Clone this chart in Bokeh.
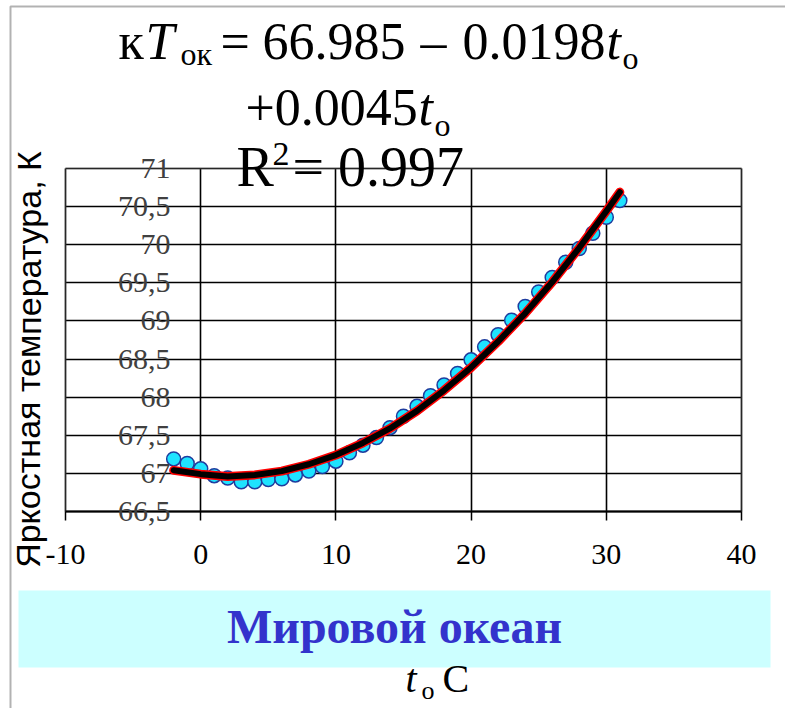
from bokeh.plotting import figure
from bokeh.models import Range1d, FixedTicker, Label, BoxAnnotation
from bokeh.embed import file_html
from bokeh.resources import INLINE

# ---- data ----
t_obs = [-2, -1, 0, 1, 2, 3, 4, 5, 6, 7, 8, 9, 10, 11, 12, 13, 14, 15, 16,
         17, 18, 19, 20, 21, 22, 23, 24, 25, 26, 27, 28, 29, 30, 31]
T_obs = [67.19, 67.13, 67.06, 66.97, 66.94, 66.89, 66.89, 66.92, 66.93, 66.98,
         67.03, 67.09, 67.16, 67.27, 67.37, 67.47, 67.60, 67.75, 67.88, 68.02,
         68.16, 68.31, 68.49, 68.66, 68.82, 69.01, 69.19, 69.38, 69.57, 69.77,
         69.95, 70.15, 70.36, 70.58]

t_fit = [-2, 0, 2, 4, 6, 8, 10, 12, 14, 16, 18, 20, 22, 24, 26, 28, 30, 31]
T_fit = [67.04, 66.99, 66.96, 66.98, 67.03, 67.12, 67.24, 67.40, 67.59, 67.82,
         68.09, 68.39, 68.73, 69.10, 69.51, 69.96, 70.44, 70.69]

x_ticks = [-10, 0, 10, 20, 30, 40]
x_tick_labels = ["-10", "0", "10", "20", "30", "40"]
y_ticks = [66.5, 67, 67.5, 68, 68.5, 69, 69.5, 70, 70.5, 71]
y_tick_labels = ["66,5", "67", "67,5", "68", "68,5", "69", "69,5", "70", "70,5", "71"]

y_title = "Яркостная температура, К"
x_title_t = "t"
x_title_sub = "о"
x_title_unit = "C"
region_name = "Мировой океан"
eq1 = ["к", "T", "ок", "=", "66.985", "–", "0.0198", "t", "о"]
eq2 = ["+0.0045", "t", "о"]
eq3 = ["R", "2", "= 0.997"]

# ---- layout (canvas pixels) ----
W, H = 785, 708
FL, FR, FT, FB = 65, 741, 168, 511          # plot-area box
x_lo, x_hi = x_ticks[0], x_ticks[-1]
y_lo, y_hi = y_ticks[0], y_ticks[-1]
kx = (FR - FL) / (x_hi - x_lo)
ky = (FB - FT) / (y_hi - y_lo)

p = figure(width=W, height=H,
           x_range=Range1d(x_lo - FL / kx, x_hi + (W - FR) / kx),
           y_range=Range1d(y_lo - (H - FB) / ky, y_hi + FT / ky),
           output_backend="svg", toolbar_location=None)
p.min_border = 0
p.background_fill_color = "white"
p.border_fill_color = "white"
p.outline_line_color = None

# grid limited to the plot area
grid_ok = True
try:
    p.xgrid.bounds = (x_lo, x_hi)
    p.xgrid.cross_bounds = (y_lo, y_hi)
    p.ygrid.bounds = (y_lo, y_hi)
    p.ygrid.cross_bounds = (x_lo, x_hi)
except Exception:
    grid_ok = False
for g, tk in ((p.xgrid, x_ticks), (p.ygrid, y_ticks)):
    g.ticker = FixedTicker(ticks=tk)
    g.grid_line_color = "black"
    g.grid_line_width = 1.6
    g.visible = grid_ok
if not grid_ok:
    p.segment(x0=x_ticks, y0=[y_lo] * len(x_ticks), x1=x_ticks, y1=[y_hi] * len(x_ticks),
              line_color="black", line_width=1.6)
    p.segment(x0=[x_lo] * len(y_ticks), y0=y_ticks, x1=[x_hi] * len(y_ticks), y1=y_ticks,
              line_color="black", line_width=1.6)

# plot-area border (grey)
p.add_layout(BoxAnnotation(left=x_lo, right=x_hi, bottom=y_lo, top=y_hi,
                           fill_alpha=0, line_color="#808080", line_width=2,
                           level="underlay"))

SERIF = "Liberation Serif"
xa = p.xaxis[0]
xa.fixed_location = y_lo
xa.bounds = (x_lo, x_hi)
xa.ticker = FixedTicker(ticks=x_ticks)
xa.major_label_overrides = {v: s for v, s in zip(x_ticks, x_tick_labels)}
xa.axis_line_color = "black"
xa.axis_line_width = 2
xa.major_tick_line_color = "black"
xa.major_tick_line_width = 1.5
xa.major_tick_out = 9
xa.major_tick_in = 0
xa.minor_tick_line_color = None
xa.major_label_text_font = SERIF
xa.major_label_text_font_size = "30px"
xa.major_label_text_color = "black"
xa.major_label_standoff = 24

ya = p.yaxis[0]
ya.fixed_location = x_lo
ya.bounds = (y_lo, y_hi)
ya.ticker = FixedTicker(ticks=y_ticks)
ya.major_label_overrides = {v: s for v, s in zip(y_ticks, y_tick_labels)}
ya.axis_line_color = None
ya.major_tick_line_color = None
ya.minor_tick_line_color = None
ya.major_tick_out = 0
ya.major_tick_in = 0
ya.major_label_standoff = -105
ya.major_label_text_font = SERIF
ya.major_label_text_font_size = "30px"
ya.major_label_text_color = "#404040"

# decorations (screen units: from bottom-left of the canvas)
p.add_layout(BoxAnnotation(left=18, right=770, top=H - 590, bottom=H - 667,
                           left_units="screen", right_units="screen",
                           top_units="screen", bottom_units="screen",
                           fill_color="#CCFFFF", fill_alpha=1, line_color=None,
                           level="underlay"))
p.add_layout(BoxAnnotation(left=10, right=W + 40, top=H - 6, bottom=-40,
                           left_units="screen", right_units="screen",
                           top_units="screen", bottom_units="screen",
                           fill_alpha=0, line_color="black", line_width=2,
                           level="overlay"))

# data
p.scatter(t_obs, T_obs, size=14, fill_color="#1EE3FF", line_color="#1F3C9E", line_width=1.5)
p.line(t_fit, T_fit, line_color="red", line_width=9, line_join="round", line_cap="round")
p.line(t_fit, T_fit, line_color="black", line_width=6, line_join="round", line_cap="round")

BL = 0.4  # baseline correction factor (fraction of font size)


def lab(text, px, py, size, style="normal", font=SERIF, color="black",
        align="left", baseline="alphabetic", angle=0):
    dy = BL * size if baseline == "alphabetic" else 0
    p.add_layout(Label(x=px, y=H - py + dy, x_units="screen", y_units="screen",
                       text=text, text_font=font, text_font_size=f"{size}px",
                       text_font_style=style, text_color=color, text_align=align,
                       text_baseline=baseline, angle=angle))


# equation line 1
lab(eq1[0], 118, 62, 52)
lab(eq1[1], 145, 62, 52, "italic")
lab(eq1[2], 180, 66, 32)
lab(eq1[3], 220, 62, 52)
lab(eq1[4], 262, 62, 52)
lab(eq1[5], 420, 62, 52)
lab(eq1[6], 462, 62, 52)
lab(eq1[7], 606, 62, 52, "italic")
lab(eq1[8], 622, 70, 32)
# line 2
lab(eq2[0], 245, 128, 52)
lab(eq2[1], 418, 128, 52, "italic")
lab(eq2[2], 434, 137, 32)
# line 3
lab(eq3[0], 236, 189, 56)
lab(eq3[1], 272, 167, 34)
lab(eq3[2], 292, 189, 56)

# axis titles
lab(y_title, 28, 359, 34, font="Liberation Sans", align="center",
    baseline="middle", angle=1.5707963)
lab(x_title_t, 405, 694, 40, "italic")
lab(x_title_sub, 421, 700, 26)
lab(x_title_unit, 442, 694, 40)

# region caption
lab(region_name, 394, 645, 48, "bold", color="#3333CC", align="center")

open("out.html", "w").write(file_html(p, INLINE))
